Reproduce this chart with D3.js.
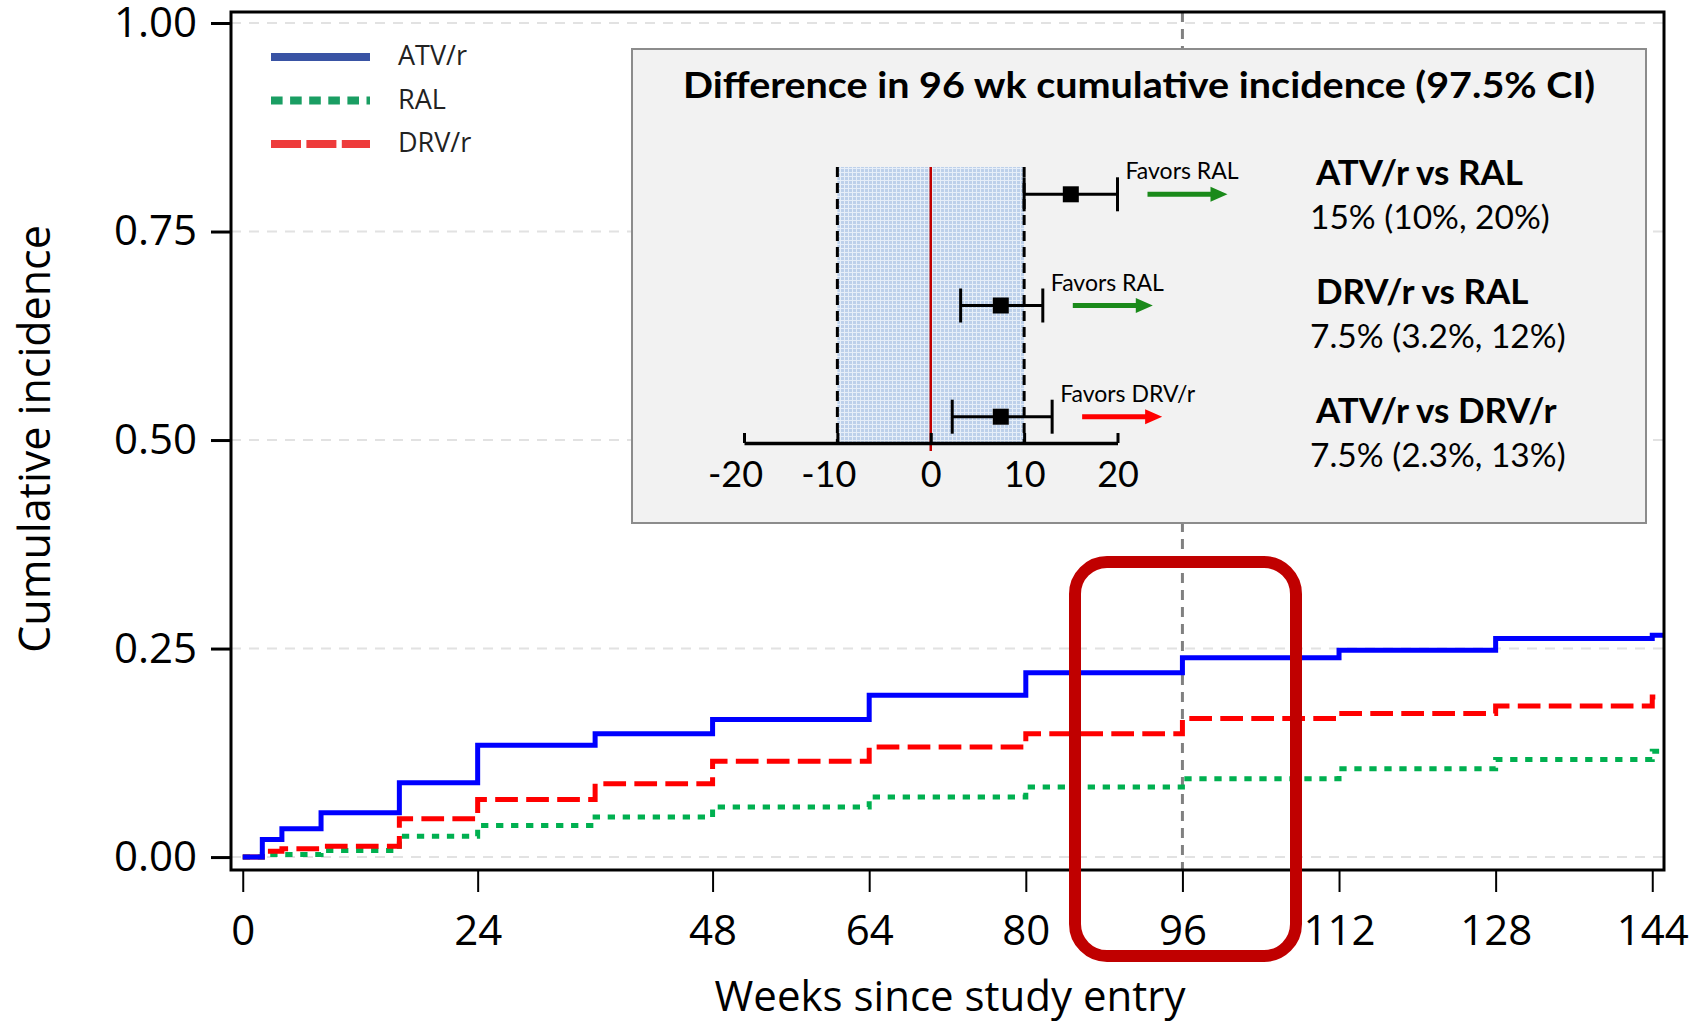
<!DOCTYPE html>
<html>
<head>
<meta charset="utf-8">
<script src="https://cdn.jsdelivr.net/npm/d3@7"></script>
<style>
  body { margin: 0; background: #fff; }
  svg { display: block; }
</style>
</head>
<body>
<svg id="chart" width="1699" height="1024"></svg>
<script>
// données
const weeks = [0, 2, 4, 8, 16, 24, 36, 48, 64, 80, 96, 112, 128, 144, 145.2];
const atv = [0, 0.021, 0.034, 0.053, 0.089, 0.134, 0.148, 0.165, 0.194, 0.221, 0.239, 0.248, 0.262, 0.266, 0.266];
const ral = [0, 0.003, 0.003, 0.008, 0.025, 0.038, 0.048, 0.060, 0.072, 0.084, 0.094, 0.106, 0.117, 0.127, 0.127];
const drv = [0, 0.007, 0.010, 0.013, 0.046, 0.069, 0.088, 0.115, 0.132, 0.148, 0.166, 0.172, 0.181, 0.192, 0.192];

const seriesNames = ["ATV/r", "RAL", "DRV/r"];
const xTicks = [0, 24, 48, 64, 80, 96, 112, 128, 144];
const yTicks = [0, 0.25, 0.5, 0.75, 1];

// encart : différences à 96 semaines
const comparisons = ["ATV/r vs RAL", "DRV/r vs RAL", "ATV/r vs DRV/r"];
const estimates = [15, 7.5, 7.5];
const lower = [10, 3.2, 2.3];
const upper = [20, 12, 13];
const ciLabels = ["15% (10%, 20%)", "7.5% (3.2%, 12%)", "7.5% (2.3%, 13%)"];
const favors = ["Favors RAL", "Favors RAL", "Favors DRV/r"];
const favorColors = ["#1a8a1a", "#1a8a1a", "#ff0000"];
const diffTicks = [-20, -10, 0, 10, 20];
const margin = 10; // marge non inférieure

const svg = d3.select("#chart");
const mainFont = "'Open Sans', 'Noto Sans', sans-serif";
const insetFont = "Lato, 'Open Sans', sans-serif";

// échelles
const x = d3.scaleLinear().domain([-1.2, 145.2]).range([231, 1664]);
const y = d3.scaleLinear().domain([-0.0155, 1.0132]).range([870, 12]);

// grille
svg.append("g")
    .selectAll("line")
    .data(yTicks)
    .enter().append("line")
    .attr("x1", x.range()[0]).attr("x2", x.range()[1])
    .attr("y1", d => y(d)).attr("y2", d => y(d))
    .attr("stroke", "#e2e2e2")
    .attr("stroke-width", 2)
    .attr("stroke-dasharray", "10,8");

// ligne verticale à 96 semaines
svg.append("line")
    .attr("x1", x(96)).attr("x2", x(96))
    .attr("y1", y.range()[1]).attr("y2", y.range()[0])
    .attr("stroke", "#808080")
    .attr("stroke-width", 3)
    .attr("stroke-dasharray", "10,7");

// courbes en escalier
const series = [
    {name: seriesNames[0], values: atv, color: "#0000ff", dash: null},
    {name: seriesNames[1], values: ral, color: "#00b050", dash: "7.3,7.7"},
    {name: seriesNames[2], values: drv, color: "#ff0000", dash: "22.7,8.3"}
];

const line = d3.line()
    .x(d => x(d[0]))
    .y(d => y(d[1]))
    .curve(d3.curveStepAfter);

svg.append("g")
    .selectAll("path")
    .data([series[1], series[2], series[0]])
    .enter().append("path")
    .attr("d", s => line(weeks.map((w, i) => [w, s.values[i]])))
    .attr("fill", "none")
    .attr("stroke", s => s.color)
    .attr("stroke-width", 5)
    .attr("stroke-dasharray", s => s.dash);

// cadre
svg.append("rect")
    .attr("x", x.range()[0]).attr("y", y.range()[1])
    .attr("width", x.range()[1] - x.range()[0])
    .attr("height", y.range()[0] - y.range()[1])
    .attr("fill", "none")
    .attr("stroke", "#000")
    .attr("stroke-width", 3);

// axes
const yAxis = svg.append("g")
    .attr("transform", "translate(" + x.range()[0] + ",0)")
    .call(d3.axisLeft(y).tickValues(yTicks).tickFormat(d3.format(".2f")).tickSize(20).tickPadding(14));
yAxis.select(".domain").remove();
yAxis.selectAll("line").attr("stroke-width", 3);
yAxis.selectAll("text").attr("font-family", mainFont).attr("font-size", 42).attr("fill", "#000");

const xAxis = svg.append("g")
    .attr("transform", "translate(0," + y.range()[0] + ")")
    .call(d3.axisBottom(x).tickValues(xTicks).tickSize(22).tickPadding(23));
xAxis.select(".domain").remove();
xAxis.selectAll("line").attr("stroke-width", 2);
xAxis.selectAll("text").attr("font-family", mainFont).attr("font-size", 42).attr("fill", "#000");

// titres des axes
svg.append("text")
    .attr("x", 950).attr("y", 1011)
    .attr("text-anchor", "middle")
    .attr("font-family", mainFont).attr("font-size", 42)
    .text("Weeks since study entry");

svg.append("text")
    .attr("transform", "translate(50,439) rotate(-90)")
    .attr("text-anchor", "middle")
    .attr("font-family", mainFont).attr("font-size", 43)
    .text("Cumulative incidence");

// légende
const legendColors = ["#3953a4", "#1a9e63", "#ee3b3b"];
const legendDash = [null, "11.6,7.5", "30,5.4"];
const legend = svg.append("g");
const ly = d3.scalePoint().domain(seriesNames).range([57, 144]);
legend.selectAll("line")
    .data(seriesNames)
    .enter().append("line")
    .attr("x1", 271).attr("x2", 370)
    .attr("y1", d => ly(d)).attr("y2", d => ly(d))
    .attr("stroke", (d, i) => legendColors[i])
    .attr("stroke-width", 8)
    .attr("stroke-dasharray", (d, i) => legendDash[i]);
legend.selectAll("text")
    .data(seriesNames)
    .enter().append("text")
    .attr("x", 398).attr("y", d => ly(d))
    .attr("dy", "0.3em")
    .attr("font-family", mainFont).attr("font-size", 27)
    .attr("fill", "#222")
    .text(d => d);

// ---- encart ----
const inset = svg.append("g");
inset.append("rect")
    .attr("x", 632).attr("y", 49)
    .attr("width", 1014).attr("height", 474)
    .attr("fill", "#f2f2f2")
    .attr("stroke", "#8c8c8c")
    .attr("stroke-width", 2);

inset.append("text")
    .attr("x", 1139).attr("y", 98)
    .attr("text-anchor", "middle")
    .attr("font-family", insetFont).attr("font-size", 36).attr("font-weight", "bold")
    .attr("textLength", 912).attr("lengthAdjust", "spacingAndGlyphs")
    .text("Difference in 96 wk cumulative incidence (97.5% CI)");

const fx = d3.scaleLinear().domain([-20, 20]).range([744, 1117.5]);
const fy = d3.scalePoint().domain(comparisons).range([194.3, 416.7]);
const bandTop = 167, axisY = 443;

// motif de la zone
const defs = svg.append("defs");
const pat = defs.append("pattern")
    .attr("id", "grid").attr("width", 4).attr("height", 4)
    .attr("patternUnits", "userSpaceOnUse");
pat.append("rect").attr("width", 4).attr("height", 4).attr("fill", "#bdd0ea");
pat.append("path").attr("d", "M0,0.5H4M0.5,0V4").attr("stroke", "#e6eef8").attr("stroke-width", 1);

inset.append("rect")
    .attr("x", fx(-margin)).attr("y", bandTop)
    .attr("width", fx(margin) - fx(-margin))
    .attr("height", axisY - bandTop)
    .attr("fill", "url(#grid)");

inset.selectAll(".ni")
    .data([-margin, margin])
    .enter().append("line")
    .attr("x1", d => fx(d)).attr("x2", d => fx(d))
    .attr("y1", bandTop).attr("y2", axisY)
    .attr("stroke", "#000").attr("stroke-width", 3)
    .attr("stroke-dasharray", "10,6");

inset.append("line")
    .attr("x1", fx(0)).attr("x2", fx(0))
    .attr("y1", bandTop).attr("y2", axisY + 8)
    .attr("stroke", "#c00000").attr("stroke-width", 2.5);

const fAxis = inset.append("g")
    .attr("transform", "translate(0," + axisY + ")")
    .call(d3.axisBottom(fx).tickValues(diffTicks).tickFormat(d => String(d))
        .tickSizeInner(-10).tickSizeOuter(0).tickPadding(18));
fAxis.select(".domain").attr("stroke-width", 3.5);
fAxis.selectAll("line").attr("stroke-width", 3);
fAxis.selectAll("text")
    .attr("font-family", insetFont).attr("font-size", 36).attr("fill", "#000")
    .attr("dx", d => d < 0 ? "-0.25em" : 0);

// intervalles de confiance
const rows = inset.selectAll(".row")
    .data(comparisons)
    .enter().append("g")
    .attr("transform", d => "translate(0," + fy(d) + ")");

rows.append("line")
    .attr("x1", (d, i) => fx(lower[i])).attr("x2", (d, i) => fx(upper[i]))
    .attr("stroke", "#000").attr("stroke-width", 3);
rows.selectAll(".cap")
    .data((d, i) => [lower[i], upper[i]])
    .enter().append("line")
    .attr("x1", v => fx(v)).attr("x2", v => fx(v))
    .attr("y1", -17).attr("y2", 17)
    .attr("stroke", "#000").attr("stroke-width", 3);
rows.append("rect")
    .attr("x", (d, i) => fx(estimates[i]) - 8)
    .attr("y", -8).attr("width", 16).attr("height", 16)
    .attr("fill", "#000");

// flèches "Favors"
rows.append("text")
    .attr("x", (d, i) => fx(upper[i]) + 8)
    .attr("y", -15)
    .attr("font-family", insetFont).attr("font-size", 23)
    .text((d, i) => favors[i]);
rows.append("path")
    .attr("d", (d, i) => {
        const x0 = fx(upper[i]) + 30, x1 = x0 + 80;
        return "M" + x0 + ",-2.5H" + (x1 - 17) + "V-7.5L" + x1 + ",0L" + (x1 - 17) + ",7.5V2.5H" + x0 + "Z";
    })
    .attr("fill", (d, i) => favorColors[i]);

// libellés à droite
const ty = d3.scalePoint().domain(comparisons).range([185, 423]);
inset.selectAll(".cmp")
    .data(comparisons)
    .enter().append("text")
    .attr("x", 1316).attr("y", d => ty(d))
    .attr("font-family", insetFont).attr("font-size", 35).attr("font-weight", "bold")
    .text(d => d);
inset.selectAll(".ci")
    .data(comparisons)
    .enter().append("text")
    .attr("x", 1310).attr("y", d => ty(d) + 44)
    .attr("font-family", insetFont).attr("font-size", 33.5)
    .text((d, i) => ciLabels[i]);

// encadré rouge autour de 96 semaines
svg.append("rect")
    .attr("x", 1075).attr("y", 562)
    .attr("width", 221).attr("height", 394)
    .attr("rx", 32).attr("ry", 32)
    .attr("fill", "none")
    .attr("stroke", "#c00000")
    .attr("stroke-width", 12);
</script>
</body>
</html>
